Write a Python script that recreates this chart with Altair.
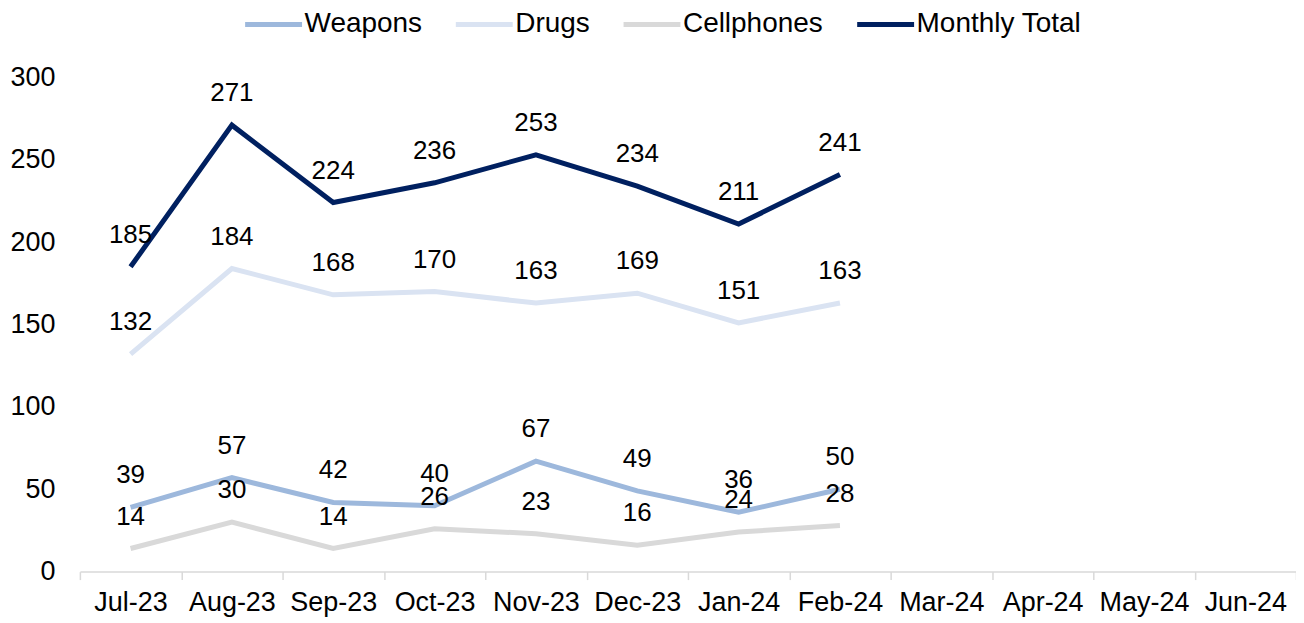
import altair as alt
import pandas as pd

months = ["Jul-23", "Aug-23", "Sep-23", "Oct-23", "Nov-23", "Dec-23",
          "Jan-24", "Feb-24", "Mar-24", "Apr-24", "May-24", "Jun-24"]
data_months = months[:8]
weapons = [39, 57, 42, 40, 67, 49, 36, 50]
drugs = [132, 184, 168, 170, 163, 169, 151, 163]
cellphones = [14, 30, 14, 26, 23, 16, 24, 28]
monthly_total = [185, 271, 224, 236, 253, 234, 211, 241]

series_names = ["Weapons", "Drugs", "Cellphones", "Monthly Total"]
series_colors = ["#9DB8DC", "#DAE3F2", "#D9D9D9", "#002060"]
y_ticks = [0, 50, 100, 150, 200, 250, 300]

rows = []
for name, vals in zip(series_names, [weapons, drugs, cellphones, monthly_total]):
    for i, (m, v) in enumerate(zip(data_months, vals)):
        rows.append({"Month": m, "Idx": i, "Series": name, "Value": v})
df = pd.DataFrame(rows)

FONT = "Liberation Sans"

x_enc = alt.X(
    "Month:N",
    sort=months,
    bandPosition=0.5,
    scale=alt.Scale(type="band", domain=months, paddingInner=0, paddingOuter=0),
    axis=alt.Axis(
        title=None,
        labelAngle=0,
        labelFontSize=27,
        labelFont=FONT,
        labelColor="#000000",
        labelPadding=10,
        labelLimit=300,
        tickBand="extent",
        tickSize=8,
        tickColor="#D9D9D9",
        tickWidth=1.5,
        domainColor="#D9D9D9",
        domainWidth=1.5,
        grid=False,
    ),
)

y_enc = alt.Y(
    "Value:Q",
    scale=alt.Scale(domain=[0, 300], nice=False),
    axis=alt.Axis(
        title=None,
        values=y_ticks,
        labelFontSize=27,
        labelFont=FONT,
        labelColor="#000000",
        labelPadding=25,
        ticks=False,
        tickSize=0,
        domain=False,
        grid=False,
    ),
)

color_enc = alt.Color(
    "Series:N",
    sort=series_names,
    scale=alt.Scale(domain=series_names, range=series_colors),
    legend=alt.Legend(
        title=None,
        orient="none",
        direction="horizontal",
        legendX=163,
        legendY=-84,
        symbolType="stroke",
        symbolSize=3249,
        symbolStrokeWidth=5,
        labelFontSize=28,
        labelFont=FONT,
        labelColor="#000000",
        labelOffset=0,
        labelLimit=400,
        columnPadding=23,
    ),
)

lines = alt.Chart(df).mark_line(strokeWidth=5, strokeJoin="miter").encode(
    x=x_enc,
    y=y_enc,
    color=color_enc,
    order=alt.Order("Idx:Q"),
)

labels = alt.Chart(df).mark_text(
    dy=-24, baseline="alphabetic", fontSize=26, font=FONT, color="#000000"
).encode(
    x=x_enc,
    y=y_enc,
    text=alt.Text("Value:Q"),
)

chart = alt.layer(lines, labels).properties(
    width=1218,
    height=495,
    autosize=alt.AutoSizeParams(type="none"),
    padding={"left": 72, "top": 69, "right": 0, "bottom": 50},
).configure_view(stroke=None)

chart.save("out.html", embed_options={"renderer": "svg", "actions": False})
